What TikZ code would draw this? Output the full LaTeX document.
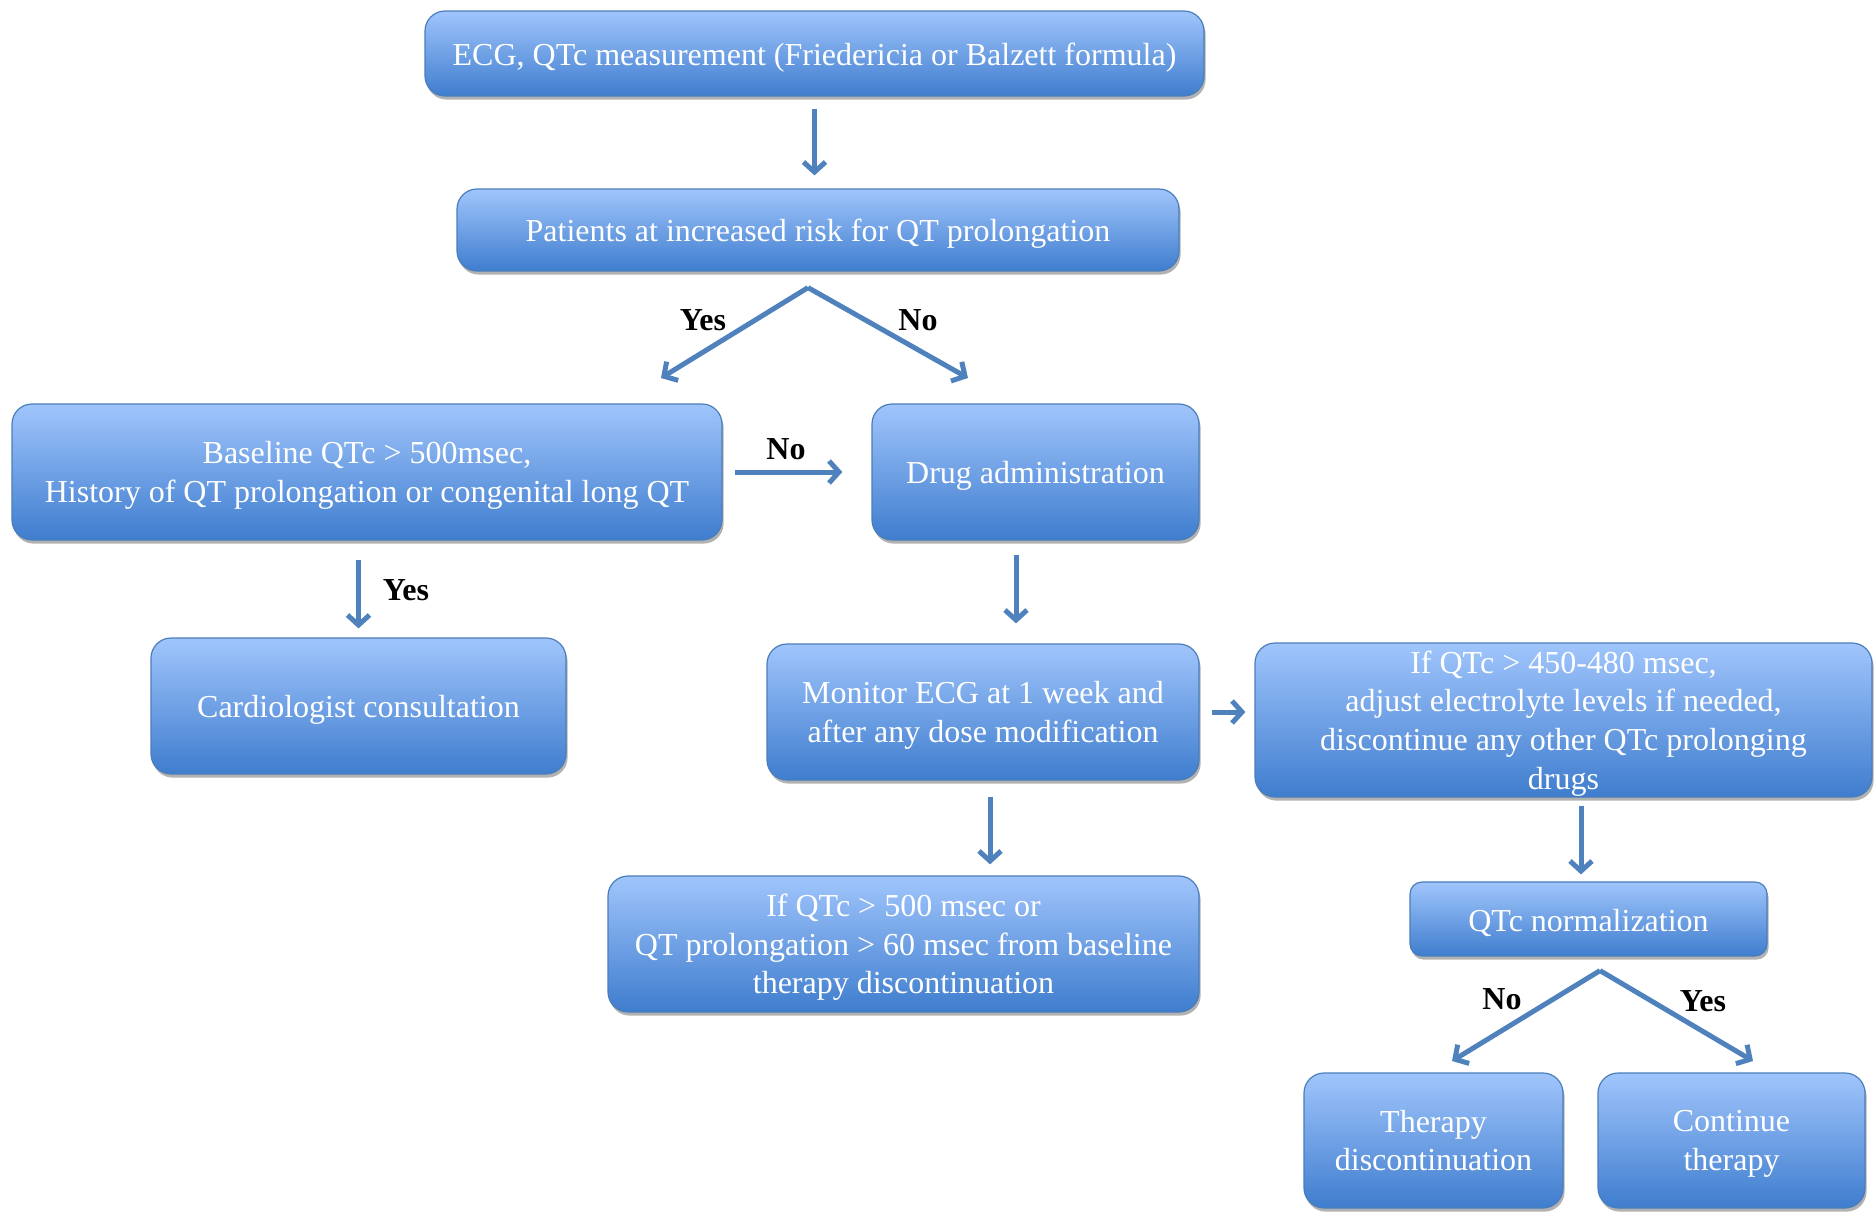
\documentclass[tikz,border=0pt]{standalone}
\usepackage{fontspec}
\setmainfont{Liberation Serif}
\usetikzlibrary{arrows.meta,shadows}
\definecolor{boxtop}{RGB}{160,197,252}
\definecolor{boxbot}{RGB}{63,125,206}
\definecolor{boxline}{RGB}{74,126,187}
\definecolor{arrowblue}{RGB}{79,129,189}
\newdimen\pxu
\pxu=0.5pt
\newcommand{\boxfont}{\fontsize{16}{19.3}\selectfont}
\tikzset{
	flowbox/.style={draw=boxline, line width=0.6pt, rounded corners=10pt,
		top color=boxtop, bottom color=boxbot, text=white, align=center,
		font=\boxfont, inner sep=2pt,
		execute at begin node={\rule{0pt}{15pt}},
		drop shadow={shadow xshift=0.8pt, shadow yshift=-1.8pt, fill=black, opacity=0.3}},
	multiline/.style={text depth=-3.5pt},
	arr/.style={draw=arrowblue, line width=2.5pt, -{Straight Barb[length=5pt,width=11pt]}},
	answer/.style={font=\boxfont\bfseries, text=black}
}

\begin{document}
\begin{tikzpicture}[x=0.5pt,y=-0.5pt]
	\useasboundingbox (0,0) rectangle (1874,1211);

	\node[flowbox, minimum width=779\pxu, minimum height=85\pxu] (ecg) at (814.5,53.5)
		{ECG, QTc measurement (Friedericia or Balzett formula)};
	\node[flowbox, minimum width=722\pxu, minimum height=82\pxu] (risk) at (818,230)
		{Patients at increased risk for QT prolongation};
	\node[flowbox, multiline, minimum width=710\pxu, minimum height=136\pxu] (base) at (367,472)
		{Baseline QTc > 500msec,\\ History of QT prolongation or congenital long QT};
	\node[flowbox, minimum width=327\pxu, minimum height=136\pxu] (drug) at (1035.5,472)
		{Drug administration};
	\node[flowbox, minimum width=415\pxu, minimum height=136\pxu] (cardio) at (358.5,706)
		{Cardiologist consultation};
	\node[flowbox, multiline, minimum width=432\pxu, minimum height=136\pxu] (monitor) at (983,712)
		{Monitor ECG at 1 week and\\ after any dose modification};
	\node[flowbox, multiline, minimum width=617\pxu, minimum height=154\pxu] (adjust) at (1563.5,720)
		{If QTc > 450-480 msec,\\ adjust electrolyte levels if needed,\\ discontinue any other QTc prolonging\\ drugs};
	\node[flowbox, multiline, minimum width=591\pxu, minimum height=136\pxu] (stopq) at (903.5,944)
		{If QTc > 500 msec or\\ QT prolongation > 60 msec from baseline\\ therapy discontinuation};
	\node[flowbox, rounded corners=6pt, minimum width=357\pxu, minimum height=74\pxu] (norm) at (1588.5,919)
		{QTc normalization};
	\node[flowbox, multiline, minimum width=259\pxu, minimum height=135\pxu] (stop) at (1433.5,1140.5)
		{Therapy\\ discontinuation};
	\node[flowbox, multiline, minimum width=267\pxu, minimum height=135\pxu] (cont) at (1731.5,1140.5)
		{Continue\\ therapy};

	% split points
	\coordinate (split1) at ([xshift=-5pt,yshift=-8pt]risk.south);
	\coordinate (riskyes) at (661,378);
	\coordinate (riskno) at (968,378);
	\coordinate (split2) at ([xshift=5.75pt,yshift=-7pt]norm.south);
	\coordinate (normno) at (1452,1061);
	\coordinate (normyes) at (1753,1061);

	\draw[arr, shorten <=6pt, shorten >=6.5pt] (ecg.south) -- (ecg.south |- risk.north);
	\draw[arr] (split1) -- (riskyes);
	\draw[arr] (split1) -- (riskno);
	\draw[arr, shorten <=6pt, shorten >=14.5pt] (base.east) -- (drug.west);
	\draw[arr, shorten <=9.5pt, shorten >=4.5pt] (cardio.north |- base.south) -- (cardio.north);
	\draw[arr, shorten <=7pt, shorten >=10pt] ([xshift=-9.75pt]drug.south) -- ([xshift=-9.75pt]drug.south |- monitor.north);
	\draw[arr, shorten <=6pt, shorten >=4.5pt] (monitor.east) -- (monitor.east -| adjust.west);
	\draw[arr, shorten <=8pt, shorten >=5.5pt] ([xshift=3.5pt]monitor.south) -- ([xshift=3.5pt]monitor.south |- stopq.north);
	\draw[arr, shorten <=4pt, shorten >=3.5pt] ([xshift=-3.75pt]norm.north |- adjust.south) -- ([xshift=-3.75pt]norm.north);
	\draw[arr] (split2) -- (normno);
	\draw[arr] (split2) -- (normyes);

	\node[answer] (yes1) at (703,320) {Yes};
	\node[answer] (no1) at (918,320) {No};
	\node[answer] (no2) at (786,449) {No};
	\node[answer] (yes2) at (406,590) {Yes};
	\node[answer] (no3) at (1502,999) {No};
	\node[answer] (yes3) at (1703,1001) {Yes};
\end{tikzpicture}
\end{document}
